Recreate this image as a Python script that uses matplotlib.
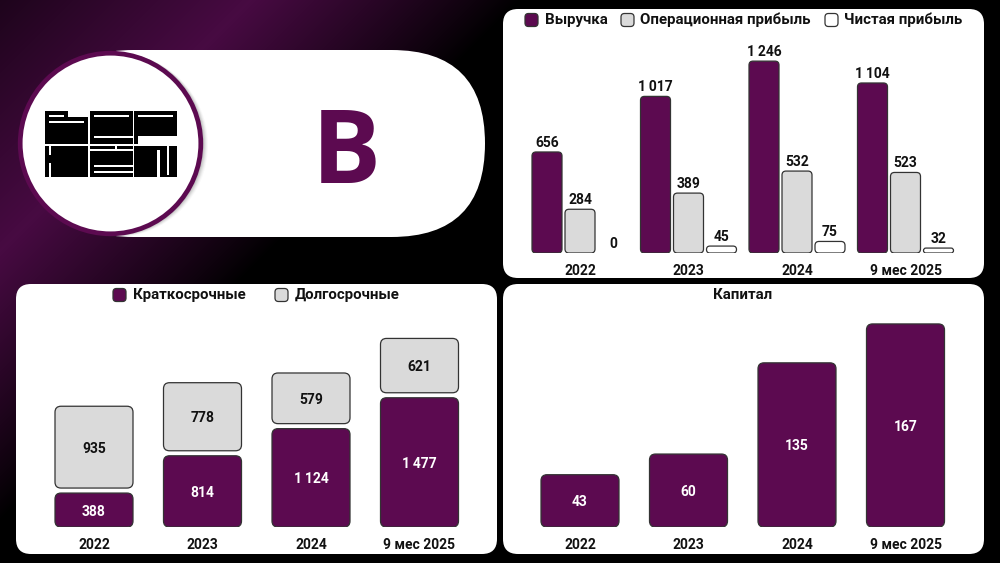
import numpy as np
import matplotlib
matplotlib.use('Agg')
import matplotlib.pyplot as plt
from matplotlib.patches import FancyBboxPatch, Circle, Rectangle

plt.rcParams['font.family'] = ['Roboto', 'DejaVu Sans']

PURPLE = '#5c0a50'
GRAY = '#dadada'
EDGE = '#333333'
W, H = 1000, 563

years = ['2022', '2023', '2024', '9 мес 2025']

revenue = [656, 1017, 1246, 1104]
op_profit = [284, 389, 532, 523]
net_profit = [0, 45, 75, 32]

short_term = [388, 814, 1124, 1477]
long_term = [935, 778, 579, 621]

capital = [43, 60, 135, 167]


def fmt(v):
    return f'{v:,}'.replace(',', '\u2009')


def make_axes(fig, left, right, top, base, px_per_unit):
    # axes sits on the bar baseline, x is in group numbers
    ax = fig.add_axes([left / W, 1 - base / H, (right - left) / W, (base - top) / H])
    ax.set_xlim((left - 580) / 108.5, (right - 580) / 108.5)
    ax.set_ylim(0, (base - top) / px_per_unit)
    ax.patch.set_alpha(0)
    for s in ax.spines.values():
        s.set_visible(False)
    ax.set_yticks([])
    ax.set_xticks(range(len(years)))
    ax.set_xticklabels(years, fontsize=10, fontweight='bold', color='#111111')
    ax.tick_params(axis='x', length=0, pad=8)
    return ax


def round_bar(ax, x, bottom, width, height, px_per_unit, color, radius=4, edge=EDGE):
    # radius in pixels, turned into group units so corners stay round
    x_unit = 1 / 108.5
    y_unit = 1 / px_per_unit
    r = min(radius, height * px_per_unit / 2) * x_unit
    p = FancyBboxPatch((x - width / 2, bottom), width, height,
                       boxstyle=f'round,pad=0,rounding_size={r}',
                       mutation_aspect=y_unit / x_unit,
                       fc=color, ec=edge, lw=0.9, zorder=3)
    ax.add_patch(p)


fig = plt.figure(figsize=(W / 100, H / 100), dpi=100, facecolor='black')

# background and hand drawn parts, in pixels
bg = fig.add_axes([0, 0, 1, 1])
bg.set_xlim(0, W)
bg.set_ylim(H, 0)
bg.axis('off')

# purple glow runs along a diagonal, black past x + y = 520
yy, xx = np.mgrid[0:H, 0:W]
diag = (xx + yy).astype(float)
glow = np.where(diag > 250, np.clip((520 - diag) / 270, 0, 1) ** 0.9, 0.42 + 0.58 * diag / 250)
img = np.zeros((H, W, 3))
img[..., 0] = 0.28 * glow
img[..., 1] = 0.04 * glow
img[..., 2] = 0.26 * glow
bg.imshow(img, extent=(0, W, H, 0), aspect='auto', zorder=0)


def rbox(x0, y0, x1, y1, r, **kw):
    bg.add_patch(FancyBboxPatch((x0, y0), x1 - x0, y1 - y0,
                                boxstyle=f'round,pad=0,rounding_size={r}', **kw))


rbox(40, 50, 485, 237, 93.5, fc='white', ec='none', zorder=1)
rbox(503, 9, 984, 278, 15, fc='white', ec='none', zorder=1)
rbox(16, 284, 497, 554, 15, fc='white', ec='none', zorder=1)
rbox(503, 284, 984, 554, 15, fc='white', ec='none', zorder=1)

# logo circle with soft shadow
for i, a in zip([5, 4, 3, 2, 1], [0.03, 0.05, 0.07, 0.09, 0.12]):
    bg.add_patch(Circle((111 + i, 143.5 + i * 0.3), 92, fc='#444444', ec='none', alpha=a, zorder=2))
bg.add_patch(Circle((110.5, 143.5), 90.3, fc='white', ec=PURPLE, lw=3.4, zorder=3))


def zr(x0, y0, x1, y1, color='black'):
    # rectangle given in 3x zoomed logo coordinates
    bg.add_patch(Rectangle((30 + x0 / 3, 95 + y0 / 3), (x1 - x0) / 3, (y1 - y0) / 3,
                           fc=color, ec='none', zorder=4))


zr(45, 48, 115, 66)
zr(45, 66, 173, 148)
zr(57, 60, 103, 65, 'white')
zr(57, 78, 162, 83, 'white')
zr(180, 48, 308, 148)
zr(192, 60, 297, 65, 'white')
zr(192, 124, 308, 130, 'white')
zr(313, 48, 440, 122)
zr(313, 122, 325, 148)
zr(325, 60, 428, 65, 'white')
zr(45, 152, 173, 245)
zr(57, 152, 64, 180, 'white')
zr(57, 205, 64, 245, 'white')
zr(180, 152, 308, 245)
zr(180, 163, 308, 168, 'white')
zr(255, 152, 261, 163, 'white')
zr(192, 210, 308, 216, 'white')
zr(192, 228, 308, 234, 'white')
zr(313, 152, 440, 245)
zr(382, 165, 390, 245, 'white')
zr(410, 152, 417, 240, 'white')

bg.text(346, 144, 'В', fontsize=74, fontweight='bold', family=['Open Sans', 'DejaVu Sans'],
        color=PURPLE, ha='center', va='center_baseline', zorder=4)


def legend_item(x, y, label, color):
    rbox(x, y - 6.5, x + 13, y + 6.5, 3.5, fc=color, ec=EDGE, lw=0.9, zorder=2)
    bg.text(x + 19.5, y, label, fontsize=10.8, fontweight='bold', color='#111111',
            ha='left', va='center', zorder=2)


legend_item(525, 20, 'Выручка', PURPLE)
legend_item(621, 20, 'Операционная прибыль', GRAY)
legend_item(825, 20, 'Чистая прибыль', 'white')
legend_item(113, 295, 'Краткосрочные', PURPLE)
legend_item(275, 295, 'Долгосрочные', GRAY)
bg.text(743, 295, 'Капитал', fontsize=10.8, fontweight='bold', color='#111111',
        ha='center', va='center', zorder=2)

# top right: grouped bars
scale1 = 0.154
ax1 = make_axes(fig, 503, 984, 9, 253, scale1)
series1 = [(revenue, PURPLE), (op_profit, GRAY), (net_profit, 'white')]
for k, (values, color) in enumerate(series1):
    for i, v in enumerate(values):
        x = i + (k - 1) * 33 / 108.5
        if v > 0:
            round_bar(ax1, x, 0, 30 / 108.5, v, scale1, color)
        ax1.annotate(fmt(v), (x, v), xytext=(0, 1.5), textcoords='offset points',
                     ha='center', va='bottom', fontsize=10, fontweight='bold',
                     color='#111111', zorder=4)

# bottom left: stacked bars with a small gap
scale2 = 0.0875
gap = 5 / scale2
ax2 = make_axes(fig, 16, 497, 284, 527, scale2)
ax2.set_xlim((16 - 94) / 108.5, (497 - 94) / 108.5)
for i in range(len(years)):
    round_bar(ax2, i, 0, 78 / 108.5, short_term[i], scale2, PURPLE, radius=6)
    round_bar(ax2, i, short_term[i] + gap, 78 / 108.5, long_term[i], scale2, GRAY, radius=6)
    ax2.text(i, short_term[i] / 2, fmt(short_term[i]), ha='center', va='center_baseline', fontsize=10,
             fontweight='bold', color='white', zorder=4)
    ax2.text(i, short_term[i] + gap + long_term[i] / 2, fmt(long_term[i]), ha='center',
             va='center_baseline', fontsize=10, fontweight='bold', color='#111111', zorder=4)

# bottom right: capital
scale3 = 1.216
ax3 = make_axes(fig, 503, 984, 284, 527, scale3)
for i, v in enumerate(capital):
    round_bar(ax3, i, 0, 78 / 108.5, v, scale3, PURPLE, radius=6)
    ax3.text(i, v / 2, fmt(v), ha='center', va='center_baseline', fontsize=10,
             fontweight='bold', color='white', zorder=4)

fig.savefig('out.png', dpi=100, facecolor='black')
plt.close(fig)
